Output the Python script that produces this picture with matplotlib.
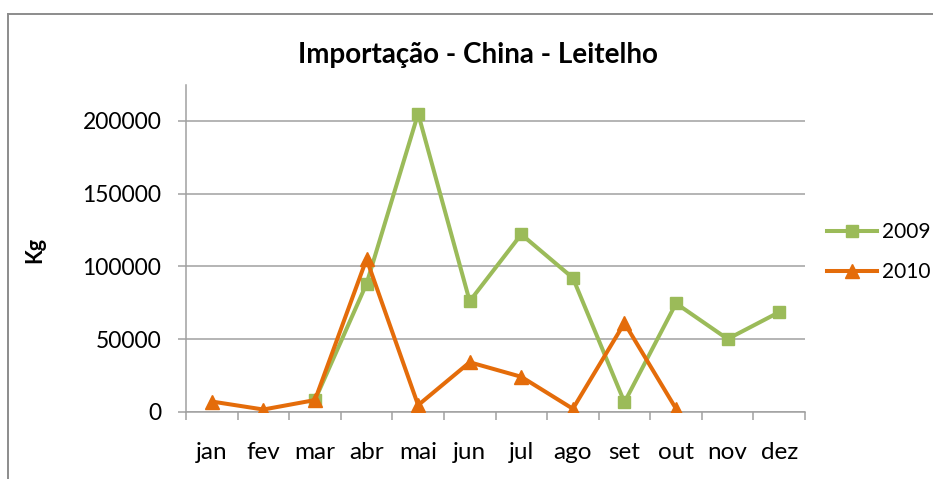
import matplotlib
matplotlib.use("Agg")
import matplotlib.pyplot as plt
import numpy as np
from matplotlib.lines import Line2D

# ---------------------------
# Data
# ---------------------------
months = ["jan", "fev", "mar", "abr", "mai", "jun", "jul", "ago", "set", "out", "nov", "dez"]
kg_2009 = [np.nan, np.nan, 8000, 88000, 205000, 76000, 122000, 92000, 6500, 74500, 50000, 68500]
kg_2010 = [7000, 1500, 8000, 105000, 4500, 34000, 24000, 2000, 61000, 2000]
y_ticks = [0, 50000, 100000, 150000, 200000]

title = "Importação - China - Leitelho"
y_label = "Kg"

# ---------------------------
# Style
# ---------------------------
GREEN = "#9BBB59"
ORANGE = "#E46C0A"
GRID = "#a0a0a0"
W, H = 933, 479
plt.rcParams["font.family"] = ["Lato", "DejaVu Sans"]

fig = plt.figure(figsize=(W / 100, H / 100), dpi=100)

# chart frame (Excel chart area border, cut off on right/bottom)
fig.add_artist(Line2D([8 / W, 8 / W], [0, 1 - 13.5 / H], transform=fig.transFigure,
                      color="#8c8c8c", lw=1.4))
fig.add_artist(Line2D([8 / W, 1], [1 - 13.5 / H, 1 - 13.5 / H], transform=fig.transFigure,
                      color="#8c8c8c", lw=1.4))

# plot area in pixels
x0, x1 = 186, 805
y_top, y_zero = 85, 411.7
ax = fig.add_axes([x0 / W, (H - y_zero) / H, (x1 - x0) / W, (y_zero - y_top) / H])

x = np.arange(len(months))
ax.plot(x, kg_2009, color=GREEN, lw=2.9, marker="s", ms=9.3, label="2009", zorder=3)
ax.plot(np.arange(len(kg_2010)), kg_2010, color=ORANGE, lw=2.9, marker="^", ms=10.5,
        label="2010", zorder=4)

ax.set_xlim(-0.5, len(months) - 0.5)
ax.set_ylim(0, 224700)
ax.set_yticks(y_ticks)
ax.set_yticklabels([str(v) for v in y_ticks])
ax.set_xticks(x)
ax.set_xticklabels(months)
ax.set_xticks(np.arange(-0.5, len(months)), minor=True)

ax.tick_params(axis="x", which="major", length=0, pad=22, labelsize=17.5)
ax.tick_params(axis="x", which="minor", length=5.8, width=1.1, color=GRID, direction="out")
ax.tick_params(axis="y", length=5.8, width=1.1, color=GRID, pad=12, labelsize=16.5)

ax.grid(axis="y", color=GRID, lw=1.1)
ax.set_axisbelow(True)
for s in ["top", "right"]:
    ax.spines[s].set_visible(False)
for s in ["left", "bottom"]:
    ax.spines[s].set_color(GRID)
    ax.spines[s].set_linewidth(1.1)

fig.text(477.5 / W, 1 - 55 / H, title, ha="center", va="center",
         fontsize=20, fontweight="bold")
fig.text(35 / W, 1 - 250 / H, y_label, ha="center", va="center", rotation=90,
         fontsize=15.5, fontweight="bold")

fig.legend(loc="upper left", bbox_to_anchor=(827 / W, 1 - 222 / H), frameon=False,
           fontsize=15, handlelength=2.4, handletextpad=0.25, labelspacing=0.95,
           borderaxespad=0, borderpad=0)

fig.savefig("out.png", dpi=100)
